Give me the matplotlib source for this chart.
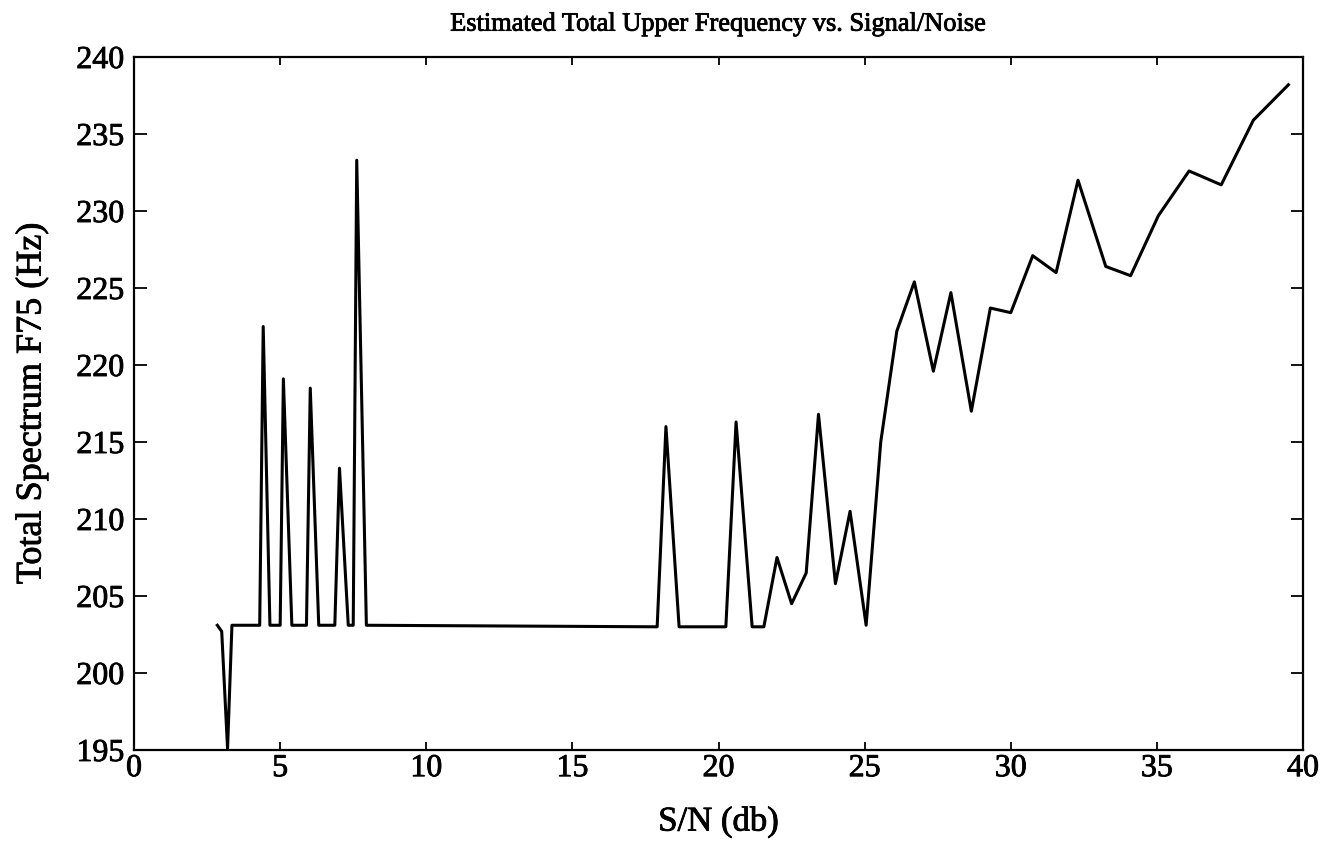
import matplotlib
matplotlib.use("Agg")
import matplotlib.pyplot as plt
import matplotlib.patheffects as pe

# Signal-to-noise ratio (dB) and estimated total-spectrum F75 (Hz)
snr_db = [2.85, 3.0, 3.2, 3.35, 4.3, 4.42, 4.65, 5.0, 5.11, 5.4, 5.9, 6.03,
          6.32, 6.87, 7.03, 7.33, 7.5, 7.62, 7.95, 17.9, 18.2, 18.65, 20.25,
          20.6, 21.15, 21.55, 22.0, 22.5, 23.0, 23.42, 24.0, 24.5, 25.05,
          25.55, 26.1, 26.7, 27.35, 27.95, 28.65, 29.3, 30.0, 30.75, 31.55,
          32.3, 33.25, 34.1, 35.05, 36.1, 37.2, 38.3, 39.5]
f75_hz = [203.1, 202.7, 195.1, 203.1, 203.1, 222.5, 203.1, 203.1, 219.1,
          203.1, 203.1, 218.5, 203.1, 203.1, 213.3, 203.1, 203.1, 233.3,
          203.1, 203.0, 216.0, 203.0, 203.0, 216.3, 203.0, 203.0, 207.5,
          204.5, 206.5, 216.8, 205.8, 210.5, 203.1, 215.0, 222.2, 225.4,
          219.6, 224.7, 217.0, 223.7, 223.4, 227.1, 226.0, 232.0, 226.4,
          225.8, 229.7, 232.6, 231.7, 235.9, 238.2]

x_ticks = [0, 5, 10, 15, 20, 25, 30, 35, 40]
y_ticks = [195, 200, 205, 210, 215, 220, 225, 230, 235, 240]

plt.rcParams['font.family'] = ['Liberation Serif', 'DejaVu Serif']
heavy = [pe.withStroke(linewidth=0.6, foreground='black')]

fig = plt.figure(figsize=(13.31, 8.59), dpi=100)
ax = fig.add_axes([0.1007, 0.1269, 0.8783, 0.8067])

ax.plot(snr_db, f75_hz, color='black', linewidth=2.2)

ax.set_xlim(0, 40)
ax.set_ylim(195, 240)
ax.set_xticks(x_ticks)
ax.set_yticks(y_ticks)
ax.tick_params(direction='in', width=1.3, top=True, right=True, labelsize=23)
ax.tick_params(axis='x', length=6, pad=3)
ax.tick_params(axis='y', length=9, pad=7)
for s in ax.spines.values():
    s.set_linewidth(1.6)
for lbl in ax.get_xticklabels() + ax.get_yticklabels():
    lbl.set_path_effects(heavy)

t = ax.set_title('Estimated Total Upper Frequency vs. Signal/Noise',
                 fontsize=19, pad=19)
xl = ax.set_xlabel('S/N (db)', fontsize=25, labelpad=16)
yl = ax.set_ylabel('Total Spectrum F75 (Hz)', fontsize=26, labelpad=20)
for txt in (t, xl, yl):
    txt.set_path_effects(heavy)

fig.savefig('out.png', dpi=100)
